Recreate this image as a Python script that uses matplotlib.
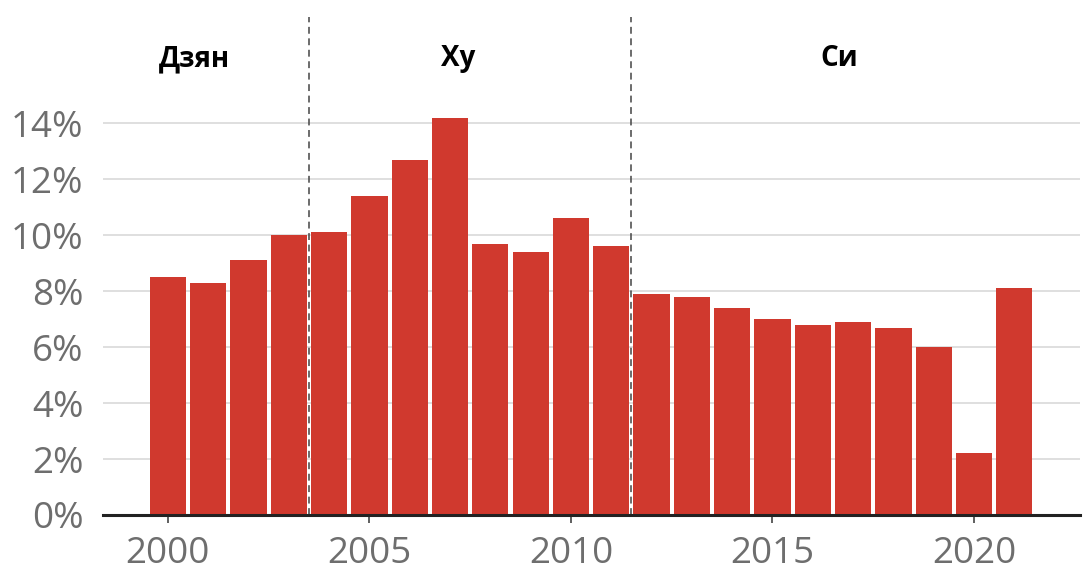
import matplotlib
matplotlib.use('Agg')
import matplotlib.pyplot as plt
from matplotlib.ticker import FuncFormatter

years = list(range(2000, 2022))
growth = [8.5, 8.3, 9.1, 10.0, 10.1, 11.4, 12.7, 14.2, 9.7, 9.4, 10.6,
          9.6, 7.9, 7.8, 7.4, 7.0, 6.8, 6.9, 6.7, 6.0, 2.2, 8.1]
era_breaks = [2003.5, 2011.5]
era_names = ['Дзян', 'Ху', 'Си']
era_label_x = [2000.65, 2007.2, 2016.65]
yticks = [0, 2, 4, 6, 8, 10, 12, 14]
xticks = [2000, 2005, 2010, 2015, 2020]

RED = '#d0392e'
GREY = '#6e6e6e'

fig = plt.figure(figsize=(10.91, 5.71), dpi=100)
ax = fig.add_axes([103 / 1091, 1 - 515 / 571, (1080 - 103) / 1091, (515 - 17) / 571])

ax.bar(years, growth, width=0.9, color=RED, edgecolor='none', zorder=2)

for xb in era_breaks:
    ln, = ax.plot([xb, xb], [0, 20], color='#444444', lw=1.1, zorder=3)
    ln.set_dashes((4.5, 3))

for name, x in zip(era_names, era_label_x):
    ax.text(x, 16.3, name, ha='center', va='center', fontsize=20,
            fontweight='bold', family='Open Sans', color='black')

ax.set_xlim(1998.39, 2022.63)
ax.set_ylim(0, 17.8)
ax.set_yticks(yticks)
ax.set_xticks(xticks)
ax.yaxis.set_major_formatter(FuncFormatter(lambda v, p: f'{int(v)}%'))

ax.grid(axis='y', color='#dcdcdc', lw=1.3, zorder=0)
ax.set_axisbelow(True)
for s in ['top', 'right', 'left']:
    ax.spines[s].set_visible(False)
ax.spines['bottom'].set_color('#222222')
ax.spines['bottom'].set_linewidth(2.2)
ax.spines['bottom'].set_zorder(4)

ax.tick_params(axis='y', length=0, pad=14, labelsize=26.5, labelcolor=GREY)
ax.tick_params(axis='x', length=6, width=1.2, color='#444444', pad=9,
               labelsize=26.5, labelcolor=GREY)
for lab in ax.get_xticklabels() + ax.get_yticklabels():
    lab.set_family('Open Sans')

fig.savefig('out.png', dpi=100)
